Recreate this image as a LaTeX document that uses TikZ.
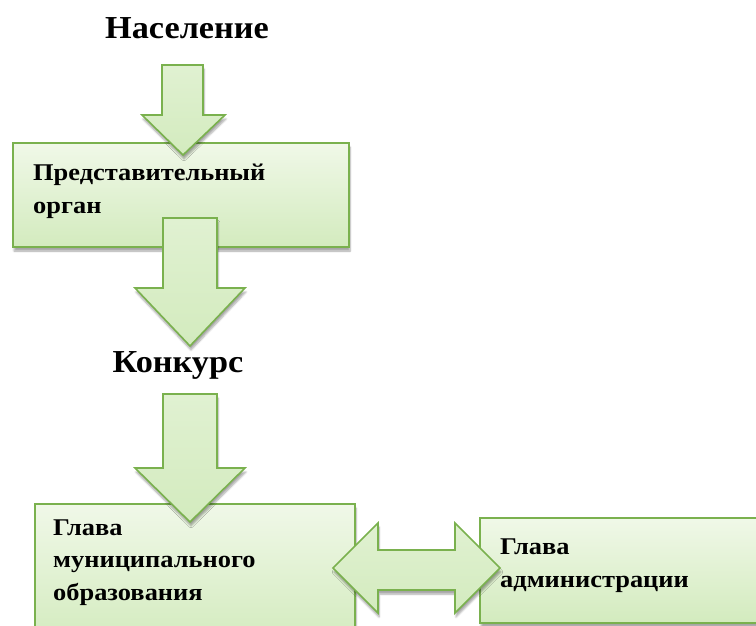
\documentclass[tikz,border=0pt]{standalone}
\usepackage{fontspec}
\setmainfont{Liberation Serif}
\newfontfamily\titlefont[FakeStretch=1.07]{Liberation Serif}
\newfontfamily\boxfont[FakeStretch=1.1]{Liberation Serif}
\usetikzlibrary{shadows.blur}
\definecolor{gborder}{HTML}{7AB14E}
\definecolor{gtop}{HTML}{F0F8E8}
\definecolor{gbot}{HTML}{D3EBBE}
\tikzset{
  box/.style={draw=gborder, line width=1.6pt, top color=gtop, bottom color=gbot,
    rectangle, inner sep=0pt,
    blur shadow={shadow blur steps=6, shadow xshift=1pt, shadow yshift=-4pt, shadow opacity=35}},
  blockarrow/.style={draw=gborder, line width=1.6pt, line join=miter, top color=gbot!70!white, bottom color=gbot,
    blur shadow={shadow blur steps=6, shadow xshift=1pt, shadow yshift=-4pt, shadow opacity=35}},
  title/.style={font=\titlefont\bfseries\fontsize{32}{36}\selectfont, inner sep=0pt, anchor=base},
  boxtext/.style={font=\boxfont\bfseries\fontsize{24}{32.5}\selectfont, inner sep=0pt, anchor=base west, align=left}
}
\begin{document}
\begin{tikzpicture}[x=1pt,y=-1pt]
\useasboundingbox (0,0) rectangle (756,626);
\clip (0,0) rectangle (756,626);
% boxes
\node[box, minimum width=336pt, minimum height=104pt] (rep) at (181,195) {};
\node[box, minimum width=320pt, minimum height=140pt] (head) at (195,574) {};
\node[box, minimum width=290pt, minimum height=105pt] (adm) at (625,570.5) {};
% texts (anchored at the baseline of the last line)
\node[title] (pop) at (187,39) {Население};
\node[title] (contest) at (178,372) {Конкурс};
\node[boxtext] (reptext) at (33,213) {Представительный\\орган};
\node[boxtext] (headtext) at (53,600) {Глава\\муниципального\\образования};
\node[boxtext] (admtext) at (500,587) {Глава\\администрации};
% block arrows
\path[blockarrow] (162,65) -- (203,65) -- (203,115) -- (225,115) -- (183,155) -- (142,115) -- (162,115) -- cycle;
\path[blockarrow] (163,218) -- (217,218) -- (217,288) -- (245,288) -- (190,346) -- (135,288) -- (163,288) -- cycle;
\path[blockarrow] (163,394) -- (217,394) -- (217,468) -- (245,468) -- (190,522) -- (135,468) -- (163,468) -- cycle;
\path[blockarrow] (333,568) -- (378,523) -- (378,550) -- (455,550) -- (455,523) -- (500,568) -- (455,613) -- (455,590) -- (378,590) -- (378,613) -- cycle;
\end{tikzpicture}
\end{document}
